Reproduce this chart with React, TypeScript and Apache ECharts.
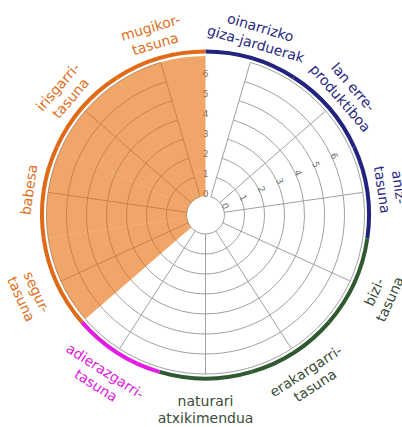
import React, { useEffect, useRef } from 'react';
import * as echarts from 'echarts';

// Categories clockwise, starting just right of the top
const categories = [
  'oinarrizko\ngiza-jarduerak',
  'lan erre-\nproduktiboa',
  'aniz-\ntasuna',
  'bizi-\ntasuna',
  'erakargarri-\ntasuna',
  'naturari\natxikimendua',
  'adierazgarri-\ntasuna',
  'segur-\ntasuna',
  'babesa',
  'irisgarri-\ntasuna',
  'mugikor-\ntasuna',
];
const groups = ['navy', 'navy', 'navy', 'green', 'green', 'green', 'magenta', 'orange', 'orange', 'orange', 'orange'];
const fillValues = [0, 0, 0, 0, 0, 0, 0, 7, 7, 7, 7];
const tickValues = [0, 1, 2, 3, 4, 5, 6];
// tick label columns sit between category k and k+1
const tickSectors = [10, 1];

const arcColors: Record<string, string> = {
  navy: '#22227f',
  green: '#2f5a2f',
  magenta: '#e31ce3',
  orange: '#e06a16',
};
const labelColors: Record<string, string> = {
  navy: '#2a2a82',
  green: '#3a4d3a',
  magenta: '#e020e0',
  orange: '#e0701e',
};

// inner edge of label blocks (radius-axis units) for upper / lower half
const LABEL_R_TOP = 7.55;
const LABEL_R_BOTTOM = 7.9;
const N = categories.length;
const START = 90 - 360 / N / 2;
const CENTER = [205.5, 215];

export default function App() {
  const ref = useRef<HTMLDivElement>(null);
  useEffect(() => {
    if (!ref.current) return;
    const chart = echarts.init(ref.current, undefined, { renderer: 'svg' });
    const hidden = {
      axisLine: { show: false },
      axisTick: { show: false },
      axisLabel: { show: false },
      splitLine: { show: false },
    };
    const option: any = {
      animation: false,
      backgroundColor: '#ffffff',
      polar: [
        { center: CENTER, radius: [19, 159] },
        { center: CENTER, radius: [161.5, 165.5] },
      ],
      angleAxis: [
        {
          polarIndex: 0,
          type: 'category',
          data: categories,
          boundaryGap: false,
          startAngle: START,
          clockwise: true,
          axisLine: { show: false },
          axisTick: { show: false },
          axisLabel: { show: false, interval: 0 },
          splitLine: { show: true, interval: 0, lineStyle: { color: '#a0a0a0', width: 1 } },
        },
        {
          polarIndex: 1,
          type: 'category',
          data: categories,
          boundaryGap: false,
          startAngle: START,
          clockwise: true,
          ...hidden,
        },
      ],
      radiusAxis: [
        {
          polarIndex: 0,
          type: 'value',
          min: 0,
          max: 7,
          interval: 1,
          axisLine: { show: false },
          axisTick: { show: false },
          axisLabel: { show: false },
          splitLine: { show: true, lineStyle: { color: '#a0a0a0', width: 1 } },
        },
        { polarIndex: 1, type: 'value', min: 0, max: 1, ...hidden },
      ],
      series: [
        {
          type: 'bar',
          coordinateSystem: 'polar',
          polarIndex: 0,
          data: fillValues,
          barCategoryGap: '0%',
          itemStyle: { color: 'rgba(231,110,13,0.62)' },
          silent: true,
        },
        {
          type: 'bar',
          coordinateSystem: 'polar',
          polarIndex: 1,
          data: groups.map((g) => ({ value: 1, itemStyle: { color: arcColors[g] } })),
          barCategoryGap: '0%',
          silent: true,
        },
        {
          type: 'custom',
          coordinateSystem: 'polar',
          polarIndex: 0,
          data: categories.map((_, i) => [LABEL_R_TOP, i]),
          silent: true,
          renderItem: (params: any, api: any) => {
            const cs = params.coordSys;
            const i = params.dataIndex;
            const p0 = api.coord([LABEL_R_TOP, i]);
            const theta = (Math.atan2(p0[0] - cs.cx, -(p0[1] - cs.cy)) * 180) / Math.PI;
            const top = Math.abs(theta) <= 90;
            const rot = top ? -theta : 180 - (theta < 0 ? theta + 360 : theta);
            const p = top ? p0 : api.coord([LABEL_R_BOTTOM, i]);
            return {
              type: 'text',
              x: p[0],
              y: p[1],
              rotation: (rot * Math.PI) / 180,
              style: {
                text: categories[i],
                fill: labelColors[groups[i]],
                font: '14px "DejaVu Sans"',
                align: 'center',
                verticalAlign: top ? 'bottom' : 'top',
                lineHeight: 17,
              },
            };
          },
        },
        {
          type: 'custom',
          coordinateSystem: 'polar',
          polarIndex: 0,
          data: tickSectors.flatMap((k) => tickValues.map((v) => [v, k])),
          silent: true,
          renderItem: (params: any, api: any) => {
            const cs = params.coordSys;
            const v = api.value(0);
            const k = api.value(1);
            const p1 = api.coord([v, k]);
            const p2 = api.coord([v, (k + 1) % N]);
            const mx = (p1[0] + p2[0]) / 2 - cs.cx;
            const my = (p1[1] + p2[1]) / 2 - cs.cy;
            const len = Math.hypot(mx, my) || 1;
            const r = Math.hypot(p1[0] - cs.cx, p1[1] - cs.cy) + 2.5;
            const ux = mx / len;
            const uy = my / len;
            const theta = (Math.atan2(ux, -uy) * 180) / Math.PI;
            return {
              type: 'text',
              x: cs.cx + ux * r,
              y: cs.cy + uy * r,
              rotation: (-theta * Math.PI) / 180,
              style: {
                text: String(tickValues[params.dataIndex % tickValues.length]),
                fill: '#707070',
                font: '9px "DejaVu Sans"',
                align: 'center',
                verticalAlign: 'middle',
              },
            };
          },
        },
      ],
    };
    chart.setOption(option);
    return () => chart.dispose();
  }, []);
  return (
    <div
      ref={ref}
      style={{ position: 'fixed', left: 0, top: 0, width: 402, height: 427 }}
    />
  );
}
